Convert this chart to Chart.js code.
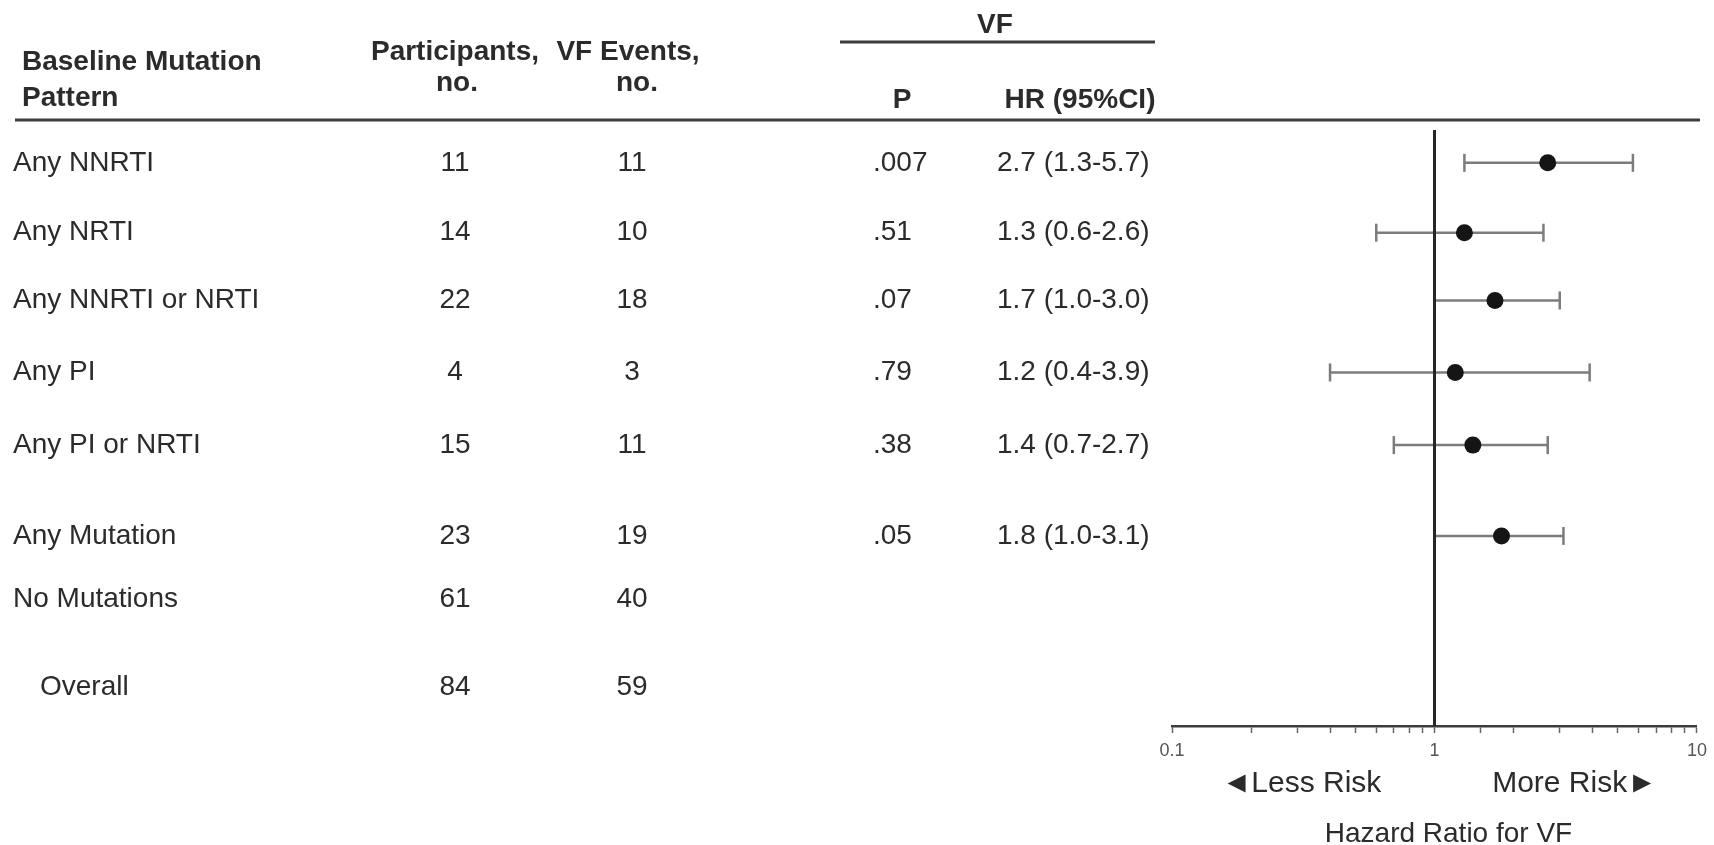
<!DOCTYPE html>
<html>
<head>
<meta charset="utf-8">
<title>Hazard Ratio for VF by Baseline Mutation Pattern</title>
<script src="https://cdn.jsdelivr.net/npm/chart.js@4.4.0/dist/chart.umd.min.js"></script>
<style>
  html, body { margin: 0; padding: 0; background: #fff; }
  #wrap { position: relative; width: 1714px; height: 845px; }
</style>
</head>
<body>
<div id="wrap"><canvas id="forest" width="1714" height="845"></canvas></div>
<script>
/* ---------- table + forest data ---------- */
const patterns     = ["Any NNRTI", "Any NRTI", "Any NNRTI or NRTI", "Any PI", "Any PI or NRTI", "Any Mutation", "No Mutations", "Overall"];
const participants = [11, 14, 22, 4, 15, 23, 61, 84];
const vfEvents     = [11, 10, 18, 3, 11, 19, 40, 59];
const pValues      = [".007", ".51", ".07", ".79", ".38", ".05", null, null];
const hazardRatio  = [2.7, 1.3, 1.7, 1.2, 1.4, 1.8, null, null];
const ciLower      = [1.3, 0.6, 1.0, 0.4, 0.7, 1.0, null, null];
const ciUpper      = [5.7, 2.6, 3.0, 3.9, 2.7, 3.1, null, null];
const axisLabels   = [0.1, 1, 10];

/* row slots on the y scale (extra gap before Any Mutation / Overall) */
const rowSlot = [0, 1, 1.97, 3, 4.04, 5.34, 6.24, 7.5];

const FONT = '"Liberation Sans", Arial, sans-serif';
const TEXT = "#2b2b2b";
const RULE = "#3c3c3c";
const WHISKER = "#7c7c7c";

/* ---------- datasets ---------- */
const ciSets = [];
hazardRatio.forEach((hr, i) => {
    if (hr == null) return;
    ciSets.push({
        type: "line",
        data: [{ x: ciLower[i], y: rowSlot[i] }, { x: ciUpper[i], y: rowSlot[i] }],
        borderColor: WHISKER,
        borderWidth: 2.5,
        pointStyle: "line",
        pointRotation: 90,
        pointRadius: 9,
        pointHoverRadius: 9,
        pointBorderColor: WHISKER,
        pointBorderWidth: 2.5,
        order: 3
    });
});

const refLine = {
    type: "line",
    data: [{ x: 1, y: -0.47 }, { x: 1, y: 8.06 }],
    borderColor: "#262626",
    borderWidth: 3,
    pointRadius: 0,
    clip: false,
    order: 2
};

const hrPoints = {
    type: "scatter",
    data: hazardRatio.map((hr, i) => hr == null ? null : { x: hr, y: rowSlot[i] }).filter(Boolean),
    pointRadius: 8.5,
    pointHoverRadius: 8.5,
    backgroundColor: "#151515",
    borderColor: "#151515",
    borderWidth: 0,
    order: 1
};

/* ---------- table text, rules and axis captions ---------- */
function fmt(v) { return v.toFixed(1); }

const tablePlugin = {
    id: "tableText",
    afterDraw(chart) {
        const ctx = chart.ctx;
        const ys = chart.scales.y;
        const xs = chart.scales.x;
        ctx.save();
        ctx.fillStyle = TEXT;
        ctx.textBaseline = "middle";

        // header
        ctx.font = "bold 28px " + FONT;
        ctx.textAlign = "left";
        ctx.fillText("Baseline Mutation", 22, 62);
        ctx.fillText("Pattern", 22, 98);
        ctx.textAlign = "center";
        ctx.fillText("Participants,", 455, 52);
        ctx.fillText("no.", 457, 83);
        ctx.fillText("VF Events,", 628, 52);
        ctx.fillText("no.", 637, 83);
        ctx.fillText("VF", 995, 25);
        ctx.fillText("P", 902, 100);
        ctx.fillText("HR (95%CI)", 1080, 100);

        ctx.strokeStyle = RULE;
        ctx.lineWidth = 3;
        ctx.beginPath();
        ctx.moveTo(840, 42); ctx.lineTo(1155, 42);
        ctx.moveTo(15, 120); ctx.lineTo(1700, 120);
        ctx.stroke();

        // rows
        ctx.font = "28px " + FONT;
        patterns.forEach((name, i) => {
            const py = ys.getPixelForValue(rowSlot[i]);
            ctx.textAlign = "left";
            ctx.fillText(name, i === patterns.length - 1 ? 40 : 13, py);
            ctx.textAlign = "center";
            ctx.fillText(String(participants[i]), 455, py);
            ctx.fillText(String(vfEvents[i]), 632, py);
            ctx.textAlign = "left";
            if (pValues[i]) ctx.fillText(pValues[i], 873, py);
            if (hazardRatio[i] != null) {
                ctx.fillText(fmt(hazardRatio[i]) + " (" + fmt(ciLower[i]) + "-" + fmt(ciUpper[i]) + ")", 997, py);
            }
        });

        // direction captions under the axis
        const mid = xs.getPixelForValue(1);
        ctx.font = "30px " + FONT;
        ctx.textAlign = "center";
        ctx.fillText("\u25C4Less Risk", mid - 133, 784);
        ctx.fillText("More Risk\u25BA", mid + 140, 784);
        ctx.font = "28px " + FONT;
        ctx.fillText("Hazard Ratio for VF", mid + 14, 834);
        ctx.restore();
    }
};

/* ---------- chart ---------- */
const ctx = document.getElementById("forest").getContext("2d");

new Chart(ctx, {
    type: "scatter",
    data: { datasets: [hrPoints, refLine, ...ciSets] },
    options: {
        responsive: false,
        devicePixelRatio: 1,
        animation: false,
        events: [],
        layout: { padding: { left: 1172, right: 17, top: 130, bottom: 89 } },
        plugins: { legend: { display: false }, tooltip: { enabled: false } },
        scales: {
            x: {
                type: "logarithmic",
                min: 0.1,
                max: 10,
                border: { display: true, color: RULE, width: 2.5 },
                grid: { display: true, drawOnChartArea: false, drawTicks: true, tickLength: 7, tickColor: "#666", tickWidth: 1.5 },
                ticks: {
                    autoSkip: false,
                    maxRotation: 0,
                    padding: 7,
                    color: "#555",
                    font: { family: FONT, size: 18 },
                    callback: v => {
                        const hit = axisLabels.find(t => Math.abs(t - v) < 1e-9);
                        return hit === undefined ? "" : String(hit);
                    }
                },
                afterFit: s => { s.height = 30; }
            },
            y: { type: "linear", reverse: true, min: -0.47, max: 8.06, display: false }
        }
    },
    plugins: [tablePlugin]
});
</script>
</body>
</html>
